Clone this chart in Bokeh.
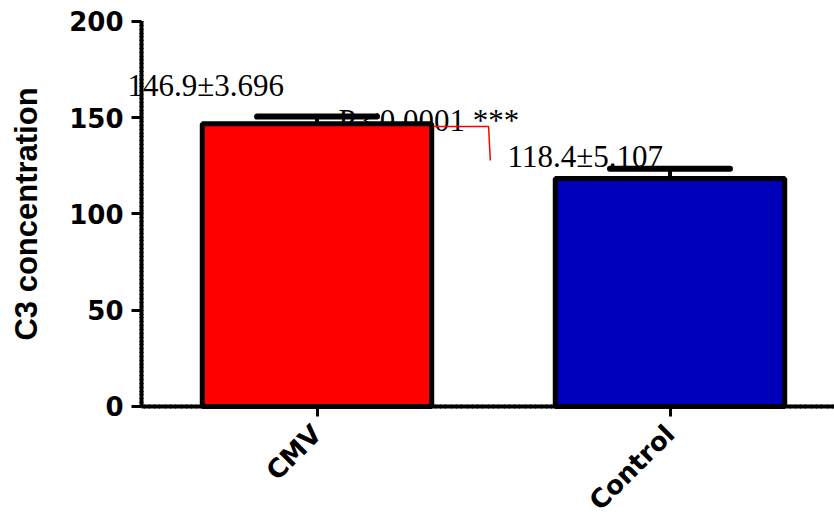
import numpy as np
from bokeh.plotting import figure
from bokeh.models import Range1d, FixedTicker, Label
from bokeh.embed import file_html
from bokeh.resources import INLINE

# ---- data ----
groups = ["CMV", "Control"]
means = [146.9, 118.4]
sems = [3.696, 5.107]
bar_colors = ["#FF0000", "#0000BB"]
y_ticks = [0, 50, 100, 150, 200]
p_text = "P <0.0001 ***"
# significance bracket (annotation) in data units
bracket_x = [1.33, 1.486, 1.491]
bracket_y = [145.5, 145.5, 127.8]

xs = [i + 1 for i in range(len(groups))]
tops = [m + s for m, s in zip(means, sems)]
cap_half = 0.17
# view window (frame fills the canvas; axes are placed at fixed data locations)
x_view = (0.1034, 2.466)
y_view = (-58.18, 210.9)
x_axis_bounds = (0.5028, 2.466)
y_axis_bounds = (0, 200)

p = figure(width=834, height=518, output_backend="svg", toolbar_location=None,
           x_range=Range1d(*x_view), y_range=Range1d(*y_view),
           min_border=0, min_border_left=0, min_border_right=0,
           min_border_top=0, min_border_bottom=0)
p.outline_line_color = None
p.xgrid.visible = False
p.ygrid.visible = False
p.background_fill_color = "white"
p.border_fill_color = "white"

# bars
p.vbar(x=xs, top=means, bottom=0, width=0.65, fill_color=bar_colors,
       line_color="black", line_width=5)

# error bars (upper only)
p.segment(x0=xs, y0=means, x1=xs, y1=tops, line_color="black", line_width=4)
p.segment(x0=[x - cap_half for x in xs], y0=tops, x1=[x + cap_half for x in xs],
          y1=tops, line_color="black", line_width=6, line_cap="round")

# bracket
p.line(bracket_x, bracket_y, line_color="red", line_width=1.5)

# annotations (drawn beneath bars and axes)
serif = "Liberation Serif"
lab_fmt = "{:.1f}±{:.3f}"
label_texts = [lab_fmt.format(m, s) for m, s in zip(means, sems)]
label_pos = [(0.463, 166.8), (1.540, 129.9)]
for (lx, ly), t in zip(label_pos, label_texts):
    p.add_layout(Label(x=lx, y=ly, text=t, text_font=serif,
                       text_font_size="31px", text_baseline="alphabetic",
                       text_align="left", text_color="black", level="underlay"))
p.add_layout(Label(x=1.061, y=148.6, text=p_text, text_font=serif,
                   text_font_size="31px", text_baseline="alphabetic",
                   text_align="left", text_color="black", level="underlay"))

# y axis
yax = p.yaxis[0]
yax.fixed_location = x_axis_bounds[0]
yax.bounds = y_axis_bounds
yax.ticker = FixedTicker(ticks=y_ticks, minor_ticks=list(np.arange(0, 201, 2)))
yax.axis_line_width = 4
yax.axis_line_color = "black"
yax.major_tick_line_width = 3
yax.major_tick_out = 10
yax.major_tick_in = 0
yax.minor_tick_line_width = 1
yax.minor_tick_in = 2
yax.minor_tick_out = 2
yax.major_label_text_font = "DejaVu Sans"
yax.major_label_text_font_style = "bold"
yax.major_label_text_font_size = "26px"
yax.major_label_text_color = "black"
yax.major_label_standoff = 8
yax.axis_label = "C3 concentration"
yax.axis_label_text_font = "Liberation Sans"
yax.axis_label_text_font_style = "bold"
yax.axis_label_text_font_size = "31px"
yax.axis_label_text_color = "black"
yax.axis_label_standoff = 22

# x axis
xax = p.xaxis[0]
xax.fixed_location = y_axis_bounds[0]
xax.bounds = x_axis_bounds
xax.ticker = FixedTicker(ticks=xs, minor_ticks=list(np.arange(0.51, 2.47, 0.015)))
xax.major_label_overrides = {x: g for x, g in zip(xs, groups)}
xax.major_label_orientation = np.pi / 4
xax.axis_line_width = 4
xax.axis_line_color = "black"
xax.major_tick_line_width = 3
xax.major_tick_out = 10
xax.major_tick_in = 0
xax.minor_tick_line_width = 1
xax.minor_tick_in = 2
xax.minor_tick_out = 2
xax.major_label_text_font = "DejaVu Sans"
xax.major_label_text_font_style = "bold"
xax.major_label_text_font_size = "26px"
xax.major_label_text_color = "black"
xax.major_label_standoff = 13

open("out.html", "w").write(file_html(p, INLINE))
